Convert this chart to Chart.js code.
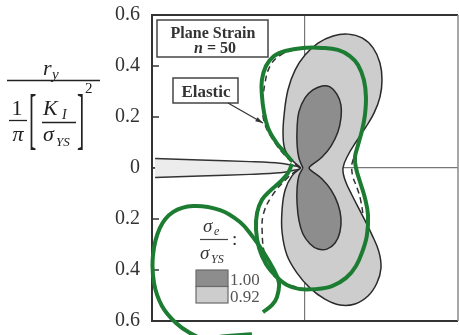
<!DOCTYPE html>
<html><head><meta charset="utf-8">
<script src="https://cdn.jsdelivr.net/npm/chart.js@4.4.1/dist/chart.umd.min.js"></script>
<style>html,body{margin:0;padding:0;background:#fff;}canvas{display:block;}</style>
</head><body>
<canvas id="c" width="459" height="335"></canvas>
<script>
// ---------- data (x, y in normalised units r / ((1/pi)(K/sigma)^2)) ----------
const yTickValues = [-0.6, -0.4, -0.2, 0, 0.2, 0.4, 0.6];
const yTickLabels = ['0.6', '0.4', '0.2', '0', '0.2', '0.4', '0.6'];
const legendLabels = ['1.00', '0.92'];

// sigma_e/sigma_YS = 0.92 contour (light)
const contour092 = [
  [-0.016,0],[-0.051,0.031],[-0.078,0.071],[-0.086,0.129],[-0.082,0.208],[-0.067,0.306],
  [-0.039,0.384],[0,0.443],[0.051,0.490],[0.110,0.518],[0.169,0.525],[0.224,0.510],
  [0.267,0.471],[0.294,0.412],[0.302,0.345],[0.294,0.278],[0.271,0.216],[0.239,0.161],
  [0.200,0.102],[0.169,0.051],[0.149,0],[0.157,-0.047],[0.184,-0.106],[0.224,-0.184],
  [0.263,-0.263],[0.290,-0.329],[0.298,-0.392],[0.282,-0.451],[0.247,-0.502],[0.196,-0.533],
  [0.137,-0.537],[0.078,-0.514],[0.020,-0.471],[-0.031,-0.412],[-0.071,-0.341],[-0.090,-0.251],
  [-0.090,-0.165],[-0.078,-0.086],[-0.051,-0.031],[-0.016,0]
];
// sigma_e/sigma_YS = 1.00 contour (dark)
const contour100 = [
  [-0.008,0],[-0.024,0.039],[-0.031,0.090],[-0.031,0.157],[-0.024,0.220],[0,0.275],
  [0.031,0.306],[0.067,0.322],[0.098,0.318],[0.125,0.290],[0.141,0.247],[0.141,0.196],
  [0.129,0.141],[0.102,0.086],[0.067,0.043],[0.027,0.012],[0.016,0],[0.027,-0.012],
  [0.067,-0.043],[0.102,-0.086],[0.129,-0.141],[0.141,-0.196],[0.137,-0.251],[0.118,-0.294],
  [0.086,-0.318],[0.051,-0.318],[0.020,-0.298],[-0.008,-0.259],[-0.024,-0.204],[-0.031,-0.141],
  [-0.031,-0.078],[-0.024,-0.031],[-0.008,0]
];
// elastic solution (dashed)
const elasticContour = [
  [-0.020,0],[-0.070,0.040],[-0.125,0.110],[-0.160,0.180],[-0.165,0.250],[-0.157,0.333],
  [-0.137,0.400],[-0.100,0.440],[-0.040,0.465],[0.030,0.475],[0.100,0.468],[0.160,0.440],
  [0.200,0.395],[0.225,0.330],[0.232,0.260],[0.228,0.190],[0.220,0.125],[0.200,0.065],
  [0.185,0.020],[0.183,0],[0.188,-0.035],[0.205,-0.080],[0.218,-0.125],[0.228,-0.190],
  [0.232,-0.260],[0.225,-0.330],[0.200,-0.395],[0.165,-0.435],[0.100,-0.468],[0.030,-0.475],
  [-0.040,-0.465],[-0.100,-0.440],[-0.140,-0.400],[-0.160,-0.333],[-0.168,-0.250],[-0.163,-0.180],
  [-0.130,-0.110],[-0.070,-0.040],[-0.020,0]
];
// crack faces (upper face from far end to tip, then lower face back)
const crackFaces = [
  [-0.588,0.037],[-0.412,0.031],[-0.216,0.025],[-0.098,0.019],[-0.039,0.008],[-0.012,0],
  [-0.039,-0.008],[-0.098,-0.019],[-0.216,-0.025],[-0.412,-0.031],[-0.588,-0.037]
];
// hand-drawn green mark around the plastic zone
const greenMarkZone = [
  [-0.051,0.027],[-0.082,0.063],[-0.114,0.102],[-0.145,0.157],[-0.161,0.220],[-0.169,0.286],
  [-0.169,0.345],[-0.153,0.400],[-0.122,0.439],[-0.078,0.459],[-0.008,0.471],[0.067,0.471],
  [0.129,0.463],[0.176,0.439],[0.208,0.404],[0.231,0.345],[0.239,0.278],[0.235,0.208],
  [0.224,0.149],[0.208,0.090],[0.196,0.043],[0.200,0],[0.216,-0.055],[0.235,-0.118],
  [0.247,-0.184],[0.243,-0.263],[0.227,-0.322],[0.200,-0.384],[0.161,-0.431],[0.106,-0.463],
  [0.039,-0.475],[-0.020,-0.475],[-0.071,-0.459],[-0.114,-0.424],[-0.153,-0.376],[-0.180,-0.314],
  [-0.192,-0.243],[-0.188,-0.176],[-0.169,-0.125],[-0.137,-0.090],[-0.098,-0.055],[-0.067,-0.020],[-0.051,0.016]
];
// hand-drawn green mark around the legend
const greenMarkLegend = [
  [-0.165,-0.565],[-0.129,-0.537],[-0.110,-0.506],[-0.102,-0.451],[-0.122,-0.400],[-0.161,-0.333],
  [-0.204,-0.271],[-0.255,-0.212],[-0.333,-0.165],[-0.439,-0.149],[-0.518,-0.173],[-0.569,-0.235],
  [-0.596,-0.341],[-0.592,-0.451],[-0.561,-0.541],[-0.506,-0.608],[-0.451,-0.647],[-0.392,-0.671],
  [-0.325,-0.661],[-0.208,-0.652]
];

const SERIF = "'Liberation Serif','Times New Roman',serif";
const LIGHT = '#cdcdcd', DARK = '#8d8d8d', OUTLINE = '#2a2a2a', GREEN = '#1c7c32';
const pts = a => a.map(p => ({x: p[0], y: p[1]}));

function txt(ctx, s, x, y, font, align, color) {
  ctx.font = font; ctx.textAlign = align || 'left'; ctx.textBaseline = 'alphabetic';
  ctx.fillStyle = color || '#222'; ctx.fillText(s, x, y);
}
function hline(ctx, x1, x2, y, w, c) {
  ctx.beginPath(); ctx.moveTo(x1, y); ctx.lineTo(x2, y);
  ctx.lineWidth = w || 1.3; ctx.strokeStyle = c || '#222'; ctx.stroke();
}
function tallGlyph(ctx, s, x, base, size, sy) {
  ctx.save(); ctx.translate(x, base); ctx.scale(1, sy);
  txt(ctx, s, 0, 0, size + 'px ' + SERIF, 'left', '#222'); ctx.restore();
}

const framePlugin = {
  id: 'frame',
  beforeDatasetsDraw(chart) {
    const {ctx, chartArea: a} = chart;
    ctx.save();
    ctx.lineWidth = 2; ctx.strokeStyle = '#333';
    ctx.beginPath(); ctx.moveTo(a.right, a.top); ctx.lineTo(a.left, a.top);
    ctx.lineTo(a.left, a.bottom); ctx.lineTo(a.right, a.bottom); ctx.stroke();
    ctx.lineWidth = 1.5; ctx.strokeStyle = '#8a8a8a';
    ctx.beginPath(); ctx.moveTo(a.right, a.top); ctx.lineTo(a.right, a.bottom); ctx.stroke();
    // inward ticks on the left axis
    const ys = chart.scales.y;
    ctx.lineWidth = 1.5; ctx.strokeStyle = '#333';
    yTickValues.slice(1, -1).forEach(v => {
      const py = ys.getPixelForValue(v);
      ctx.beginPath(); ctx.moveTo(a.left, py); ctx.lineTo(a.left + 7, py); ctx.stroke();
    });
    ctx.restore();
  }
};

const notesPlugin = {
  id: 'notes',
  afterDraw(chart) {
    const ctx = chart.ctx;
    ctx.save();
    // ---- y-axis title: r_y / ( (1/pi) [K_I / sigma_YS]^2 ) ----
    txt(ctx, 'r', 43, 75, 'italic 22px ' + SERIF);
    txt(ctx, 'y', 52, 79, 'italic 15px ' + SERIF);
    hline(ctx, 7, 100, 80.5, 1.4);
    txt(ctx, '1', 17, 115, '22px ' + SERIF, 'center');
    hline(ctx, 9, 27, 120.5, 1.3);
    txt(ctx, 'π', 18, 141, 'italic 22px ' + SERIF, 'center');
    tallGlyph(ctx, '[', 29, 141, 22, 3.1);
    txt(ctx, 'K', 43, 115, 'italic 22px ' + SERIF);
    txt(ctx, 'I', 62, 119, 'italic 14px ' + SERIF);
    hline(ctx, 42, 76, 122.5, 1.3);
    txt(ctx, 'σ', 43, 141, 'italic 22px ' + SERIF);
    txt(ctx, 'YS', 56, 146, 'italic 13px ' + SERIF);
    tallGlyph(ctx, ']', 77, 141, 22, 3.1);
    txt(ctx, '2', 85, 93, '15px ' + SERIF);

    // ---- "Plane Strain, n = 50" box ----
    ctx.fillStyle = '#fff'; ctx.fillRect(157, 20, 111, 37);
    ctx.lineWidth = 1.5; ctx.strokeStyle = '#444'; ctx.strokeRect(157, 20, 111, 37);
    txt(ctx, 'Plane Strain', 213, 38, 'bold 16px ' + SERIF, 'center', '#333');
    ctx.font = 'bold italic 16px ' + SERIF; const wn = ctx.measureText('n').width;
    ctx.font = 'bold 16px ' + SERIF; const wr = ctx.measureText(' = 50').width;
    const sx = 215 - (wn + wr) / 2;
    txt(ctx, 'n', sx, 53, 'bold italic 16px ' + SERIF, 'left', '#333');
    txt(ctx, ' = 50', sx + wn, 53, 'bold 16px ' + SERIF, 'left', '#333');

    // ---- "Elastic" label with arrow ----
    ctx.fillStyle = '#fff'; ctx.fillRect(173, 78, 65, 25);
    ctx.lineWidth = 1.5; ctx.strokeStyle = '#444'; ctx.strokeRect(173, 78, 65, 25);
    txt(ctx, 'Elastic', 206, 97, 'bold 17px ' + SERIF, 'center', '#333');
    const ax1 = 228, ay1 = 103, ax2 = 263, ay2 = 123;
    ctx.beginPath(); ctx.moveTo(ax1, ay1); ctx.lineTo(ax2, ay2);
    ctx.lineWidth = 1.2; ctx.strokeStyle = '#333'; ctx.stroke();
    const ang = Math.atan2(ay2 - ay1, ax2 - ax1);
    ctx.beginPath(); ctx.moveTo(ax2, ay2);
    ctx.lineTo(ax2 - 8 * Math.cos(ang - 0.3), ay2 - 8 * Math.sin(ang - 0.3));
    ctx.lineTo(ax2 - 8 * Math.cos(ang + 0.3), ay2 - 8 * Math.sin(ang + 0.3));
    ctx.closePath(); ctx.fillStyle = '#333'; ctx.fill();

    // ---- legend: sigma_e / sigma_YS : ----
    txt(ctx, 'σ', 203, 232, 'italic 19px ' + SERIF, 'left', '#333');
    txt(ctx, 'e', 214, 235, 'italic 12px ' + SERIF, 'left', '#333');
    hline(ctx, 200, 228, 239.5, 1.2, '#444');
    txt(ctx, ':', 232, 245, '19px ' + SERIF, 'left', '#333');
    txt(ctx, 'σ', 200, 259, 'italic 19px ' + SERIF, 'left', '#333');
    txt(ctx, 'YS', 211, 263, 'italic 12px ' + SERIF, 'left', '#333');
    const fills = [DARK, LIGHT];
    legendLabels.forEach((lab, i) => {
      const y0 = 270 + i * 16.5;
      ctx.fillStyle = fills[i]; ctx.fillRect(196, y0, 32, 16.5);
      ctx.lineWidth = 1.2; ctx.strokeStyle = '#6a6a6a'; ctx.strokeRect(196, y0, 32, 16.5);
      txt(ctx, lab, 230, y0 + 15, '17px ' + SERIF, 'left', '#555');
    });
    ctx.restore();
  }
};

const zeroGrid = c => (c.tick && Math.abs(c.tick.value) < 1e-9) ? '#777' : 'rgba(0,0,0,0)';
const noPad = s => { s.paddingTop = 0; s.paddingBottom = 0; s.paddingLeft = 0; s.paddingRight = 0; };

new Chart(document.getElementById('c'), {
  type: 'line',
  data: {
    datasets: [
      { label: 'mark zone', data: pts(greenMarkZone), order: 0, borderColor: GREEN, borderWidth: 4,
        fill: false, tension: 0.4, clip: false },
      { label: 'mark legend', data: pts(greenMarkLegend), order: 0, borderColor: GREEN, borderWidth: 4,
        fill: false, tension: 0.4, clip: false },
      { label: '1.00', data: pts(contour100), order: 2, borderColor: OUTLINE, borderWidth: 1.5,
        backgroundColor: DARK, fill: 'shape', tension: 0.4 },
      { label: '0.92', data: pts(contour092), order: 3, borderColor: OUTLINE, borderWidth: 1.5,
        backgroundColor: LIGHT, fill: 'shape', tension: 0.4 },
      { label: 'Elastic', data: pts(elasticContour), order: 4, borderColor: '#333', borderWidth: 1.5,
        borderDash: [6, 4], fill: false, tension: 0.4 },
      { label: 'crack', data: pts(crackFaces), order: 5, borderColor: '#333', borderWidth: 1.5,
        backgroundColor: '#ececec', fill: 'shape', tension: 0.3 }
    ]
  },
  options: {
    responsive: false, animation: false, events: [],
    layout: { padding: { top: 15, right: 1, bottom: 14, left: 0 } },
    elements: { point: { radius: 0 }, line: { capBezierPoints: false } },
    plugins: { legend: { display: false }, tooltip: { enabled: false } },
    scales: {
      x: { type: 'linear', min: -0.6, max: 0.6,
        ticks: { display: false, stepSize: 0.2 },
        grid: { drawTicks: false, color: zeroGrid, lineWidth: 1.2 },
        border: { display: false },
        afterFit: s => { s.height = 0; noPad(s); } },
      y: { type: 'linear', min: -0.6, max: 0.6,
        ticks: { stepSize: 0.2, autoSkip: false, padding: 12, color: '#333',
          font: { family: SERIF, size: 20 },
          callback: (v, i) => yTickLabels[i] },
        grid: { drawTicks: false, color: zeroGrid, lineWidth: 1.2 },
        border: { display: false },
        afterFit: s => { s.width = 152; noPad(s); } }
    }
  },
  plugins: [framePlugin, notesPlugin]
});
</script>
</body></html>
